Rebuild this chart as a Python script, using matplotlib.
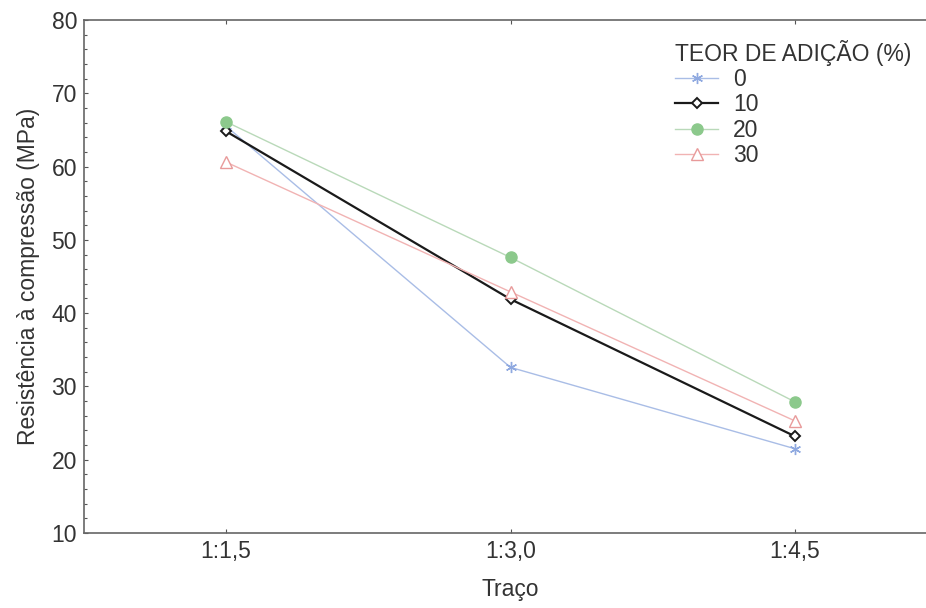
import matplotlib
matplotlib.use('Agg')
import matplotlib.pyplot as plt
from matplotlib.ticker import MultipleLocator

plt.rcParams['font.family'] = ['Liberation Sans', 'DejaVu Sans']

# data
tracos = ['1:1,5', '1:3,0', '1:4,5']
teor_0 = [65.5, 32.6, 21.5]
teor_10 = [64.8, 41.9, 23.2]
teor_20 = [66.1, 47.6, 27.9]
teor_30 = [60.6, 42.9, 25.3]

fs = 16.5
fig = plt.figure(figsize=(9.26, 6.08), dpi=100)
ax = fig.add_axes([84/926, 75/608, 853/926, 513/608])

x = range(len(tracos))
ax.plot(x, teor_0, color='#a9bde6', lw=1.0, marker=(6, 2, 0), ms=8,
        mec='#8fa9e0', mew=1.0, label='0')
ax.plot(x, teor_10, color='#1a1a1a', lw=1.6, marker='D', ms=5.5,
        mfc='white', mec='#1a1a1a', mew=1.4, label='10')
ax.plot(x, teor_20, color='#b9d9b9', lw=1.0, marker='o', ms=8,
        mfc='#8cc98c', mec='#8cc98c', label='20')
ax.plot(x, teor_30, color='#f1b3b3', lw=1.0, marker='^', ms=8,
        mfc='white', mec='#e89a9a', mew=1.0, label='30')

ax.set_xlim(-0.5, 2.5)
ax.set_ylim(10, 80)
ax.set_xticks(list(x))
ax.set_xticklabels(tracos)
ax.yaxis.set_major_locator(MultipleLocator(10))
ax.yaxis.set_minor_locator(MultipleLocator(2))
ax.tick_params(axis='both', which='major', direction='in', length=3,
               width=0.8, color='#555555', labelsize=fs, labelcolor='#333333',
               top=True)
ax.tick_params(axis='y', which='major', pad=5)
ax.tick_params(axis='x', which='major', pad=5)
ax.tick_params(axis='y', which='minor', direction='in', length=2,
               width=0.8, color='#555555')
for s in ax.spines.values():
    s.set_color('#666666')
    s.set_linewidth(1.2)

ax.set_xlabel('Traço', fontsize=fs, color='#333333', labelpad=11)
ax.set_ylabel('Resistência à compressão (MPa)', fontsize=fs, color='#333333', labelpad=8)

leg = ax.legend(title='TEOR DE ADIÇÃO (%)', loc='upper left',
                bbox_to_anchor=(0.68, 0.984), frameon=False, fontsize=fs,
                title_fontsize=fs, handlelength=1.85, handletextpad=0.65,
                labelspacing=0.1, borderpad=0)
leg._legend_box.align = 'left'
for t in leg.get_texts():
    t.set_color('#333333')
leg.get_title().set_color('#333333')

fig.savefig('out.png', dpi=100)
